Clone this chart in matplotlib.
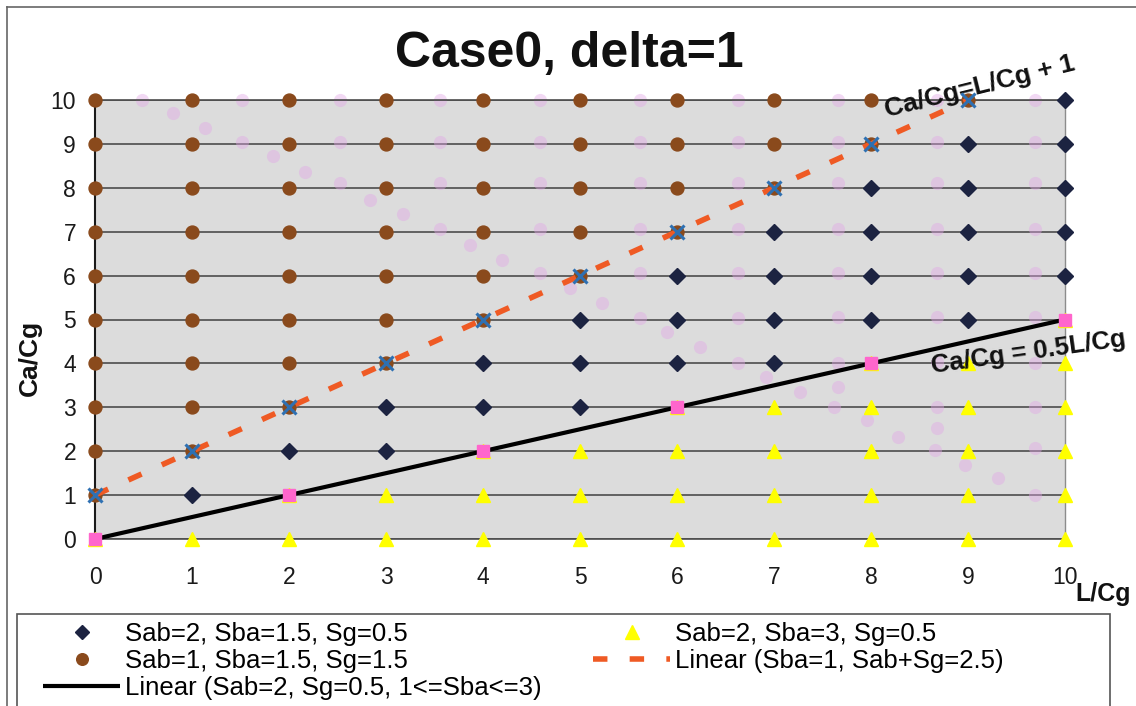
import matplotlib
matplotlib.use("Agg")
import matplotlib.pyplot as plt
from matplotlib.lines import Line2D
from matplotlib.patches import Rectangle

plt.rcParams['font.family'] = ['Liberation Sans', 'DejaVu Sans']

# ---- data -------------------------------------------------------------
ticks = [0, 1, 2, 3, 4, 5, 6, 7, 8, 9, 10]

# Sab=2, Sba=1.5, Sg=0.5
diamond_x = [1, 2, 3, 3, 4, 4, 5, 5, 5, 6, 6, 6, 7, 7, 7, 7, 8, 8, 8, 8,
             9, 9, 9, 9, 9, 10, 10, 10, 10, 10]
diamond_y = [1, 2, 2, 3, 3, 4, 3, 4, 5, 4, 5, 6, 4, 5, 6, 7, 5, 6, 7, 8,
             5, 6, 7, 8, 9, 6, 7, 8, 9, 10]

# Sab=1, Sba=1.5, Sg=1.5
circle_x = [0, 0, 0, 0, 0, 0, 0, 0, 0, 0, 1, 1, 1, 1, 1, 1, 1, 1, 1,
            2, 2, 2, 2, 2, 2, 2, 2, 3, 3, 3, 3, 3, 3, 3, 4, 4, 4, 4, 4, 4,
            5, 5, 5, 5, 5, 6, 6, 6, 6, 7, 7, 7, 8, 8, 9]
circle_y = [1, 2, 3, 4, 5, 6, 7, 8, 9, 10, 2, 3, 4, 5, 6, 7, 8, 9, 10,
            3, 4, 5, 6, 7, 8, 9, 10, 4, 5, 6, 7, 8, 9, 10, 5, 6, 7, 8, 9, 10,
            6, 7, 8, 9, 10, 7, 8, 9, 10, 8, 9, 10, 9, 10, 10]

# Sab=2, Sba=3, Sg=0.5
triangle_x = [0, 1, 2, 2, 3, 3, 4, 4, 4, 5, 5, 5, 6, 6, 6, 6, 7, 7, 7, 7,
              8, 8, 8, 8, 8, 9, 9, 9, 9, 9, 10, 10, 10, 10, 10, 10]
triangle_y = [0, 0, 0, 1, 0, 1, 0, 1, 2, 0, 1, 2, 0, 1, 2, 3, 0, 1, 2, 3,
              0, 1, 2, 3, 4, 0, 1, 2, 3, 4, 0, 1, 2, 3, 4, 5]

# boundary points on Ca/Cg = 0.5 L/Cg
square_x = [0, 2, 4, 6, 8, 10]
square_y = [0, 1, 2, 3, 4, 5]

# boundary points on Ca/Cg = L/Cg + 1
cross_x = [0, 1, 2, 3, 4, 5, 6, 7, 8, 9]
cross_y = [1, 2, 3, 4, 5, 6, 7, 8, 9, 10]

# trend lines (end points)
upper_x = [0, 9]
upper_y = [1, 10]
lower_x = [0, 10]
lower_y = [0, 5]

# faint pink marks across the plot area
faint_x = [0.48, 1.52, 1.52, 2.53, 2.53, 2.53,
           3.56, 3.56, 3.56, 3.56,
           4.59, 4.59, 4.59, 4.59, 4.59,
           5.62, 5.62, 5.62, 5.62, 5.62, 5.62,
           6.63, 6.63, 6.63, 6.63, 6.63, 6.63, 6.63,
           7.66, 7.66, 7.66, 7.66, 7.66, 7.66, 7.66, 7.66, 7.62,
           8.68, 8.68, 8.68, 8.68, 8.68, 8.68, 8.68, 8.68, 8.68, 8.66,
           9.69, 9.69, 9.69, 9.69, 9.69, 9.69, 9.69, 9.69, 9.69, 9.69,
           0.80, 1.13, 1.84, 2.16, 2.84, 3.18, 3.87, 4.20, 4.90, 5.23,
           5.90, 6.24, 6.92, 7.27, 7.96, 8.28, 8.97, 9.31]
faint_y = [10.0, 10.0, 9.04, 10.0, 9.04, 8.10,
           10.0, 9.04, 8.10, 7.06,
           10.0, 9.04, 8.10, 7.06, 6.06,
           10.0, 9.04, 8.10, 7.06, 6.06, 5.04,
           10.0, 9.04, 8.10, 7.06, 6.06, 5.04, 4.00,
           10.0, 9.04, 8.10, 7.06, 6.06, 5.06, 4.00, 3.46, 3.00,
           10.0, 9.04, 8.10, 7.06, 6.06, 5.06, 4.03, 3.00, 2.53, 2.03,
           10.0, 9.04, 8.10, 7.06, 6.06, 5.06, 4.00, 3.00, 2.07, 1.00,
           9.70, 9.36, 8.72, 8.36, 7.72, 7.40, 6.70, 6.36, 5.72, 5.38,
           4.72, 4.37, 3.69, 3.35, 2.71, 2.33, 1.69, 1.39]

labels = ["Sab=2, Sba=1.5, Sg=0.5",
          "Sab=1, Sba=1.5, Sg=1.5",
          "Linear (Sab=2, Sg=0.5, 1<=Sba<=3)",
          "Sab=2, Sba=3, Sg=0.5",
          "Linear (Sba=1, Sab+Sg=2.5)"]

# ---- colours ----------------------------------------------------------
NAVY = '#1c2341'
BROWN = '#8a4a1c'
YELLOW = '#ffff00'
PINK = '#ff66cc'
ORANGE = '#ef5a24'
BLUE = '#2e70b2'
GRID = '#4d4d4d'

W, H = 1136, 706
fig = plt.figure(figsize=(W / 100, H / 100), dpi=100)
fig.patch.set_facecolor('white')


def fx(px):
    return px / W


def fy(py):
    return 1 - py / H


ax = fig.add_axes([fx(95), fy(539), fx(1065) - fx(95), fy(100) - fy(539)])
ax.set_xlim(0, 10)
ax.set_ylim(0, 10)
ax.set_facecolor('#dcdcdc')
ax.set_xticks(ticks)
ax.set_yticks(ticks)
ax.yaxis.grid(True, color=GRID, linewidth=1.2)
ax.set_axisbelow(True)

ax.spines['left'].set_color('#1a1a1a')
ax.spines['left'].set_linewidth(1.5)
ax.spines['bottom'].set_color(GRID)
ax.spines['bottom'].set_linewidth(1.2)
ax.spines['top'].set_color(GRID)
ax.spines['top'].set_linewidth(1.2)
ax.spines['right'].set_color('#8c8c8c')
ax.spines['right'].set_linewidth(1.0)

ax.tick_params(axis='both', direction='out', length=3.6, width=1,
               color=GRID, labelsize=16.5, labelcolor='#1a1a1a')
ax.tick_params(axis='x', pad=15.5)
ax.tick_params(axis='y', pad=10)

# faint marks
ax.plot(faint_x, faint_y, linestyle='none', marker='o', ms=9.5,
        color='#e2a6e6', alpha=0.42, mec='none', zorder=1, clip_on=False)

# series
h_circ, = ax.plot(circle_x, circle_y, linestyle='none', marker='o', ms=9.3,
                  color=BROWN, mec=BROWN, zorder=3, clip_on=False)
h_diam, = ax.plot(diamond_x, diamond_y, linestyle='none', marker='D', ms=8,
                  color=NAVY, mec=NAVY, zorder=3, clip_on=False)
h_tri, = ax.plot(triangle_x, triangle_y, linestyle='none', marker='^',
                 ms=10.5, color=YELLOW, mec=YELLOW, zorder=3, clip_on=False)

h_up, = ax.plot(upper_x, upper_y, color=ORANGE, linewidth=4.0, zorder=4,
                dashes=(2.6, 4.0), dash_capstyle='butt', clip_on=False)
h_low, = ax.plot(lower_x, lower_y, color='#000000', linewidth=3.0, zorder=4,
                 solid_capstyle='butt', clip_on=False)

ax.plot(square_x, square_y, linestyle='none', marker='s', ms=8.5,
        color=PINK, mec=PINK, zorder=5, clip_on=False)
ax.plot(cross_x, cross_y, linestyle='none', marker='x', ms=9.5, mew=2.2,
        color=BLUE, zorder=7, clip_on=False)

# annotations for the two boundary lines
ax.text(8.165, 9.61, "Ca/Cg=L/Cg + 1", rotation=14, rotation_mode='anchor',
        ha='left', va='baseline', fontsize=19, fontweight='bold',
        color='#111111', zorder=6)
ax.text(8.63, 3.78, "Ca/Cg = 0.5L/Cg", rotation=8, rotation_mode='anchor',
        ha='left', va='baseline', fontsize=18.5, fontweight='bold',
        color='#111111', zorder=6)

# titles and axis labels
fig.text(fx(569), fy(67), "Case0, delta=1", ha='center', va='baseline',
         fontsize=36, fontweight='bold', color='#111111')
fig.text(fx(30), fy(358), "Ca/Cg", rotation=90, ha='center', va='center',
         fontsize=19, fontweight='bold', color='#111111')
fig.text(fx(1075), fy(601), "L/Cg", ha='left', va='baseline',
         fontsize=18, fontweight='bold', color='#111111')

# legend
handles = [h_diam, h_circ, h_low, h_tri, h_up]
fig.legend(handles, labels, loc='upper left',
           bbox_to_anchor=(fx(43), fy(622)), ncol=2, frameon=False,
           fontsize=18.5, handlelength=3.0, handletextpad=0.2,
           columnspacing=2.0, labelspacing=0.125, borderpad=0,
           borderaxespad=0, markerscale=0.9)

# legend frame and outer chart frame
fig.add_artist(Rectangle((fx(17), -0.05), fx(1110) - fx(17), fy(614) + 0.05,
                         transform=fig.transFigure, fill=False,
                         edgecolor='#555555', linewidth=1.2))
fig.add_artist(Line2D([fx(7), fx(7)], [0, fy(7)], transform=fig.transFigure,
                      color='#666666', linewidth=1.2))
fig.add_artist(Line2D([fx(7), 1], [fy(7), fy(7)], transform=fig.transFigure,
                      color='#666666', linewidth=1.2))

fig.savefig('out.png', dpi=100)
